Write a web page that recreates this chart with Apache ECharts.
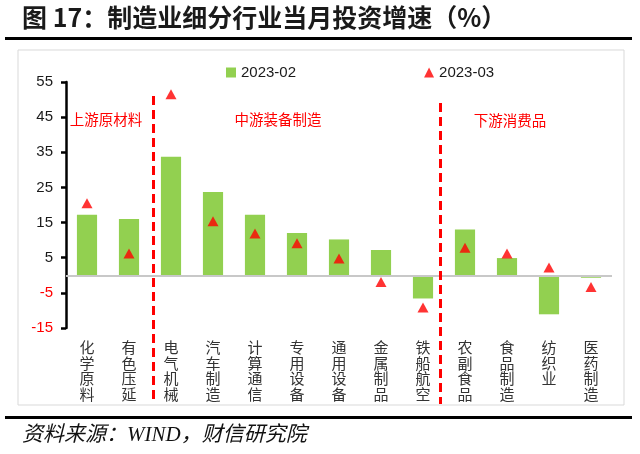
<!DOCTYPE html>
<html>
<head>
<meta charset="utf-8">
<script src="https://cdn.jsdelivr.net/npm/echarts@6/dist/echarts.min.js"></script>
<style>html,body{margin:0;padding:0;background:#fff}#c{width:640px;height:454px}</style>
</head>
<body>
<div id="c"></div>
<script>
const categories = ['化学原料','有色压延','电气机械','汽车制造','计算通信','专用设备','通用设备','金属制品','铁船航空','农副食品','食品制造','纺织业','医药制造'];
const feb2023 = [17.2, 16.0, 33.7, 23.7, 17.2, 12.0, 10.2, 7.2, -6.6, 13.0, 4.9, -11.1, -0.7];
const mar2023 = [20.5, 6.2, 51.5, 15.4, 11.9, 9.1, 4.8, -1.9, -9.2, 7.8, 6.2, 2.2, -3.3];
const yTicks = [-15, -5, 5, 15, 25, 35, 45, 55];
const seriesNames = ['2023-02', '2023-03'];
const groupNames = ['上游原材料', '中游装备制造', '下游消费品'];
const dividerPos = [2.07, 8.92];

const CJK = "'Noto Sans CJK SC', sans-serif";
const chart = echarts.init(document.getElementById('c'));

const option = {
  backgroundColor: '#fff',
  animation: false,
  grid: [
    {left: 66, right: 28, top: 82, bottom: 126, containLabel: false},
    {left: 66, right: 28, top: 96, bottom: 50, containLabel: false}
  ],
  legend: {
    data: [
      {name: seriesNames[0], icon: 'rect'},
      {name: seriesNames[1], icon: 'triangle'}
    ],
    left: 221, top: 60, itemWidth: 10, itemHeight: 10, itemGap: 128,
    textStyle: {fontSize: 15, color: '#1a1a1a', fontFamily: "'Liberation Sans', sans-serif"}
  },
  xAxis: [
    {
      type: 'category', data: categories, gridIndex: 0,
      axisLine: {show: false}, axisTick: {show: false},
      axisLabel: {
        interval: 0, margin: 12, fontSize: 15, lineHeight: 15.5, color: '#333',
        fontFamily: CJK, verticalAlign: 'top',
        formatter: v => v.split('').join('\n')
      }
    },
    {type: 'value', gridIndex: 1, min: 0, max: categories.length, show: false}
  ],
  yAxis: [
    {
      type: 'value', gridIndex: 0, min: yTicks[0], max: yTicks[yTicks.length - 1], interval: 10,
      splitLine: {show: false},
      axisLine: {show: true, onZero: false, lineStyle: {color: '#000', width: 2.5}},
      axisTick: {show: true, length: 5, lineStyle: {color: '#000', width: 2.5}},
      axisLabel: {
        margin: 13, fontSize: 15, fontFamily: "'Liberation Sans', sans-serif",
        color: v => (v < 0 ? '#ff0000' : '#1a1a1a')
      }
    },
    {type: 'value', gridIndex: 1, min: 0, max: 1, show: false}
  ],
  series: [
    {
      name: seriesNames[0], type: 'bar', data: feb2023, barWidth: '48%',
      itemStyle: {color: '#92D050'},
      markLine: {
        silent: true, symbol: 'none', label: {show: false},
        lineStyle: {color: '#c8c8c8', width: 2, type: 'solid'},
        data: [{yAxis: 0}]
      },
      z: 2
    },
    {
      name: seriesNames[1], type: 'scatter', data: mar2023,
      symbol: 'triangle', symbolSize: [11, 10],
      itemStyle: {color: '#ff0000'}, z: 5
    },
    {
      type: 'line', xAxisIndex: 1, yAxisIndex: 1, data: [], silent: true,
      markLine: {
        silent: true, symbol: 'none', label: {show: false},
        lineStyle: {color: '#ff0000', width: 3, type: [9, 5]},
        data: [
          [{coord: [dividerPos[0], 1]}, {coord: [dividerPos[0], 0]}],
          [{coord: [dividerPos[1], 0.977]}, {coord: [dividerPos[1], 0]}]
        ]
      }
    }
  ],
  graphic: [
    {type: 'rect', shape: {x: 18, y: 50, width: 606, height: 355}, style: {fill: 'none', stroke: '#d9d9d9', lineWidth: 1}, z: -1, silent: true},
    {type: 'line', shape: {x1: 5, y1: 38.5, x2: 632, y2: 38.5}, style: {stroke: '#000', lineWidth: 3}},
    {type: 'line', shape: {x1: 5, y1: 417.5, x2: 632, y2: 417.5}, style: {stroke: '#000', lineWidth: 3}},
    {type: 'text', left: 22, top: 5, style: {text: '图 17：制造业细分行业当月投资增速（%）', font: "bold 25px 'Noto Sans CJK SC'", fill: '#1a1a1a'}},
    {type: 'text', left: 22, top: 425, style: {text: '资料来源：WIND，财信研究院', font: "italic 21px 'Liberation Serif', 'Noto Sans CJK SC'", fill: '#111'}},
    {type: 'text', x: 106, y: 119, style: {text: groupNames[0], font: "14.5px 'Noto Sans CJK SC'", fill: '#ff0000', align: 'center', verticalAlign: 'middle'}},
    {type: 'text', x: 278, y: 119, style: {text: groupNames[1], font: "14.5px 'Noto Sans CJK SC'", fill: '#ff0000', align: 'center', verticalAlign: 'middle'}},
    {type: 'text', x: 510, y: 120, style: {text: groupNames[2], font: "14.5px 'Noto Sans CJK SC'", fill: '#ff0000', align: 'center', verticalAlign: 'middle'}}
  ]
};
chart.setOption(option);
</script>
</body>
</html>
